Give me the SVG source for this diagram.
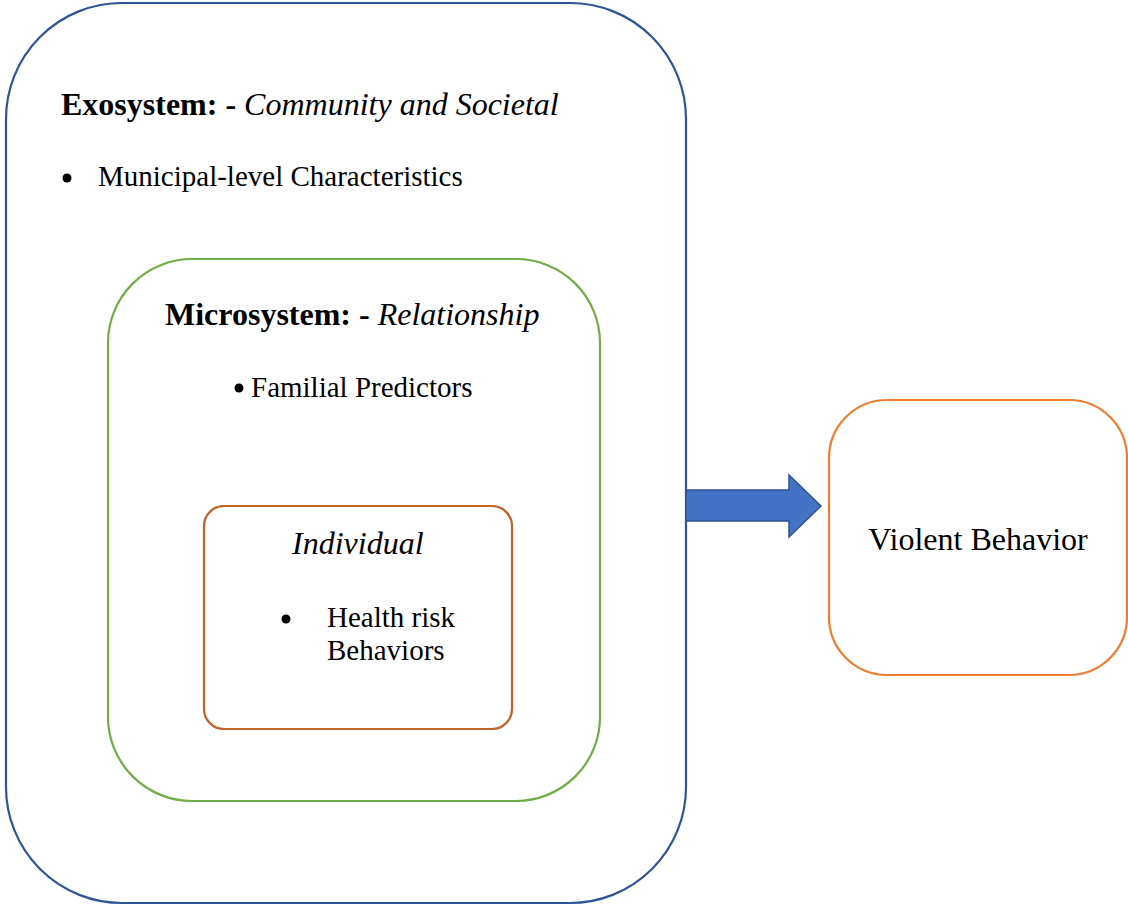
<svg xmlns="http://www.w3.org/2000/svg" width="1128" height="906" viewBox="0 0 1128 906">
<style>
.box{fill:#fff;stroke-width:2.2}
.t{font-family:"Liberation Serif","Times New Roman",serif;fill:#000}
.h{font-size:32px}
.b{font-size:29px}
</style>
<rect width="1128" height="906" fill="#fff"/>
<g id="exosystem">
<rect class="box" x="6" y="3" width="680" height="900" rx="116" ry="116" stroke="#2F5597"/>
<text class="t h" x="61" y="115"><tspan font-weight="bold">Exosystem: - </tspan><tspan font-style="italic">Community and Societal</tspan></text>
<circle cx="67" cy="178" r="4.5" fill="#000"/>
<text class="t b" x="98" y="186">Municipal-level Characteristics</text>
</g>
<g id="microsystem">
<rect class="box" x="108" y="259" width="492" height="542" rx="84" ry="84" stroke="#70AD47"/>
<text class="t h" x="165" y="325"><tspan font-weight="bold">Microsystem: - </tspan><tspan font-style="italic">Relationship</tspan></text>
<circle cx="239" cy="388" r="4.5" fill="#000"/>
<text class="t b" x="251" y="397">Familial Predictors</text>
</g>
<g id="individual">
<rect class="box" x="204" y="506" width="308" height="223" rx="20" ry="20" stroke="#C0622A"/>
<text class="t h" x="292" y="554" font-style="italic">Individual</text>
<circle cx="286" cy="619" r="4.5" fill="#000"/>
<text class="t b" x="327" y="627">Health risk</text>
<text class="t b" x="327" y="660">Behaviors</text>
</g>
<g id="connectors">
<path d="M686,490 H789 V475 L821,506 L789,537 V521 H686 Z" fill="#4472C4" stroke="#2F528F" stroke-width="1.5"/>
</g>
<g id="violent">
<rect class="box" x="829" y="400" width="298" height="275" rx="58" ry="58" stroke="#ED7D31"/>
<text class="t h" x="978" y="550" text-anchor="middle">Violent Behavior</text>
</g>
</svg>
